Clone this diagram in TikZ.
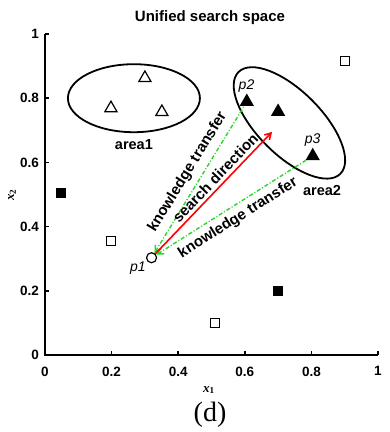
\documentclass[tikz,border=0pt]{standalone}
\usepackage{fontspec}
\setmainfont{Liberation Sans}
\newfontfamily\timesfont{Liberation Serif}
\usetikzlibrary{arrows.meta,shapes.geometric,positioning}
\definecolor{ktgreen}{RGB}{40,215,40}

\begin{document}
\begin{tikzpicture}[x=1pt,y=1pt,>={Straight Barb[length=6pt,width=7pt]},
		every node/.style={font=\bfseries\fontsize{13.5}{15}\selectfont},
		mk/.style={draw,line width=1.2pt,inner sep=0pt},
		opentri/.style={mk,regular polygon,regular polygon sides=3,minimum size=14pt},
		filltri/.style={opentri,fill=black},
		opensq/.style={mk,rectangle,minimum size=9pt},
		fillsq/.style={opensq,fill=black},
		area/.style={draw,ellipse,line width=1.8pt,inner sep=0pt},
		plbl/.style={font=\itshape\fontsize{14}{16}\selectfont,inner sep=1pt},
		alabel/.style={font=\bfseries\fontsize{14.5}{16}\selectfont},
		tlabel/.style={font=\bfseries\fontsize{15}{17}\selectfont,text=black,inner sep=1pt},
		kt/.style={ktgreen,line width=1.4pt,dash pattern=on 4pt off 2pt on 1pt off 2pt},
		sd/.style={red,line width=1.6pt}]
		\useasboundingbox (0,0) rectangle (390,432);
		\node (title) at (210,414) {\fontsize{15}{17}\selectfont Unified search space};
		\node (xlab) at (209,42) {\timesfont\fontsize{13}{15}\selectfont\textit{x}\textsubscript{1}};
		\node[rotate=90] (ylab) at (12,237) {\timesfont\fontsize{13}{15}\selectfont\textit{x}\textsubscript{2}};
		\node (cap) at (210,17) {\timesfont\mdseries\fontsize{28}{30}\selectfont (d)};
		\begin{scope}[shift={(45pt,77pt)},x=333pt,y=321pt]
			% axes and ticks
			\draw[line width=2pt] (0,1) -- (0,0) -- (1,0);
			\foreach \v in {0,0.2,0.4,0.6,0.8,1}{
				\draw[line width=1.4pt] (0,\v) -- ++(4pt,0);
				\draw[line width=1.4pt] (\v,0) -- ++(0,4pt);
				\node[anchor=east,inner sep=0pt] at ([xshift=-6pt]0,\v) {\v};
				\node[anchor=north,inner sep=0pt] at ([yshift=-11.5pt]\v,0) {\v};
			}
			% areas
			\node[area,minimum width=132pt,minimum height=68pt,label={[alabel,yshift=-3pt]below:area1}] (area1) at (0.267,0.80) {};
			\node[area,rotate=-45,minimum width=144pt,minimum height=64pt] (area2) at (0.734,0.723) {};
			\node[alabel] (area2lbl) at (0.832,0.511) {area2};
			% points
			\node[opentri] (t1) at (0.198,0.769) {};
			\node[opentri] (t2) at (0.30,0.863) {};
			\node[opentri] (t3) at (0.351,0.757) {};
			\node[filltri,label={[plbl]92:p2}] (p2) at (0.606,0.789) {};
			\node[filltri] (t5) at (0.70,0.758) {};
			\node[filltri,label={[plbl]90:p3}] (p3) at (0.804,0.62) {};
			\node[opensq] (s1) at (0.90,0.916) {};
			\node[opensq] (s2) at (0.198,0.355) {};
			\node[opensq] (s3) at (0.51,0.10) {};
			\node[fillsq] (s4) at (0.048,0.505) {};
			\node[fillsq] (s5) at (0.70,0.199) {};
			\node[mk,circle,fill=white,minimum size=10pt,label={[plbl]215:p1}] (p1) at (0.32,0.303) {};
			\coordinate (sdend) at (0.682,0.695);
			% transfer and search
			\draw[kt,<-] (p1) -- (p2) node[pos=0.5,sloped,above=5pt,tlabel]{knowledge transfer};
			\draw[kt,<-] (p1) -- (p3) node[pos=0.5,sloped,below=4pt,tlabel]{knowledge transfer};
			\draw[sd,->] (p1) -- (sdend) node[pos=0.57,sloped,above=2pt,tlabel]{search direction};
		\end{scope}
\end{tikzpicture}
\end{document}
